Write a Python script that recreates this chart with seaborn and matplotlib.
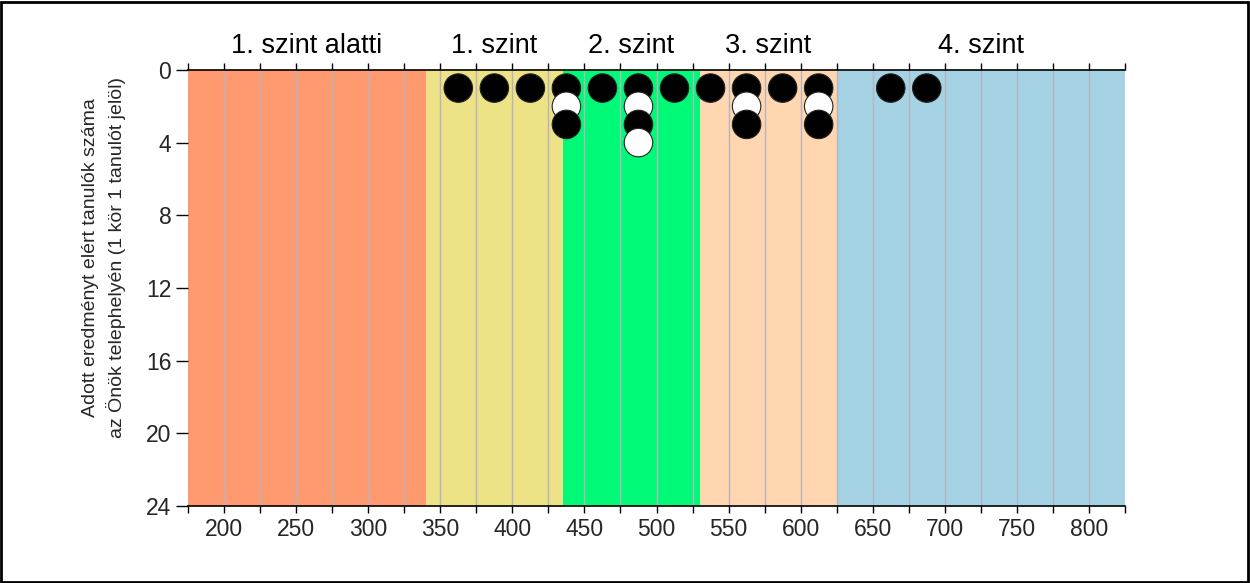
import matplotlib
matplotlib.use("Agg")
import matplotlib.pyplot as plt
import seaborn as sns
import pandas as pd
import numpy as np
from matplotlib.patches import Rectangle

# ---- data ----
score_bins = [362.5, 387.5, 412.5, 437.5, 462.5, 487.5, 512.5, 537.5, 562.5, 587.5, 612.5, 662.5, 687.5]
student_counts = [1, 1, 1, 3, 1, 4, 1, 1, 3, 1, 3, 1, 1]
band_labels = ["1. szint alatti", "1. szint", "2. szint", "3. szint", "4. szint"]
band_edges = [175, 340, 435, 530, 625, 825]
band_colors = ["#FF9A70", "#EEE287", "#00FA78", "#FFD6B0", "#A6D3E3"]
x_ticks = [200, 250, 300, 350, 400, 450, 500, 550, 600, 650, 700, 750, 800]
y_ticks = [0, 4, 8, 12, 16, 20, 24]
y_label = "Adott eredményt elért tanulók száma\naz Önök telephelyén (1 kör 1 tanulót jelöl)"

rows = []
for x, c in zip(score_bins, student_counts):
    for k in range(1, c + 1):
        rows.append({"score": x, "level": k, "kind": "odd" if k % 2 == 1 else "even"})
df = pd.DataFrame(rows)

sns.set_theme(style="white")
plt.rcParams["font.family"] = ["Liberation Sans", "DejaVu Sans"]

fig = plt.figure(figsize=(12.5, 5.83), dpi=100)
ax = fig.add_axes([0.1504, 0.1321, 0.7496, 0.748])

for i, lab in enumerate(band_labels):
    ax.add_patch(Rectangle((band_edges[i], 0), band_edges[i + 1] - band_edges[i], 24,
                           facecolor=band_colors[i], edgecolor="none", zorder=0))
    ax.text((band_edges[i] + band_edges[i + 1]) / 2, -0.6, lab, ha="center", va="bottom",
            fontsize=19.5, color="black", clip_on=False)

for gx in np.arange(200, 825, 25):
    ax.axvline(gx, color="#B4B4C0", lw=1, zorder=1)

sns.scatterplot(data=df, x="score", y="level", hue="kind",
                palette={"odd": "black", "even": "white"}, s=420,
                edgecolor="#222222", linewidth=0.8, legend=False, ax=ax, zorder=3)

ax.set_xlim(175, 825)
ax.set_ylim(24, 0)
ax.set_xticks(x_ticks)
ax.set_xticks(np.arange(175, 826, 25), minor=True)
ax.set_yticks(y_ticks)
ax.set_xticklabels([str(v) for v in x_ticks], fontsize=16.5)
ax.set_yticklabels([str(v) for v in y_ticks], fontsize=16.5)
ax.tick_params(axis="x", which="both", bottom=True, top=True, direction="out",
               length=5, width=1, color="black", pad=4)
ax.tick_params(axis="y", left=True, direction="out", length=9, width=1, color="black", pad=3)
ax.set_xlabel("")
ax.set_ylabel(y_label, fontsize=14, linespacing=1.45)
ax.yaxis.set_label_coords(-0.066, 0.569)
for s in ["left", "right"]:
    ax.spines[s].set_visible(False)
for s in ["top", "bottom"]:
    ax.spines[s].set_visible(True)
    ax.spines[s].set_color("black")
    ax.spines[s].set_linewidth(1.2)
ax.grid(False)

fig.patches.append(Rectangle((0.001, 0.002), 0.997, 0.995, transform=fig.transFigure,
                             fill=False, edgecolor="black", linewidth=2))

fig.savefig("out.png", dpi=100, facecolor="white")
